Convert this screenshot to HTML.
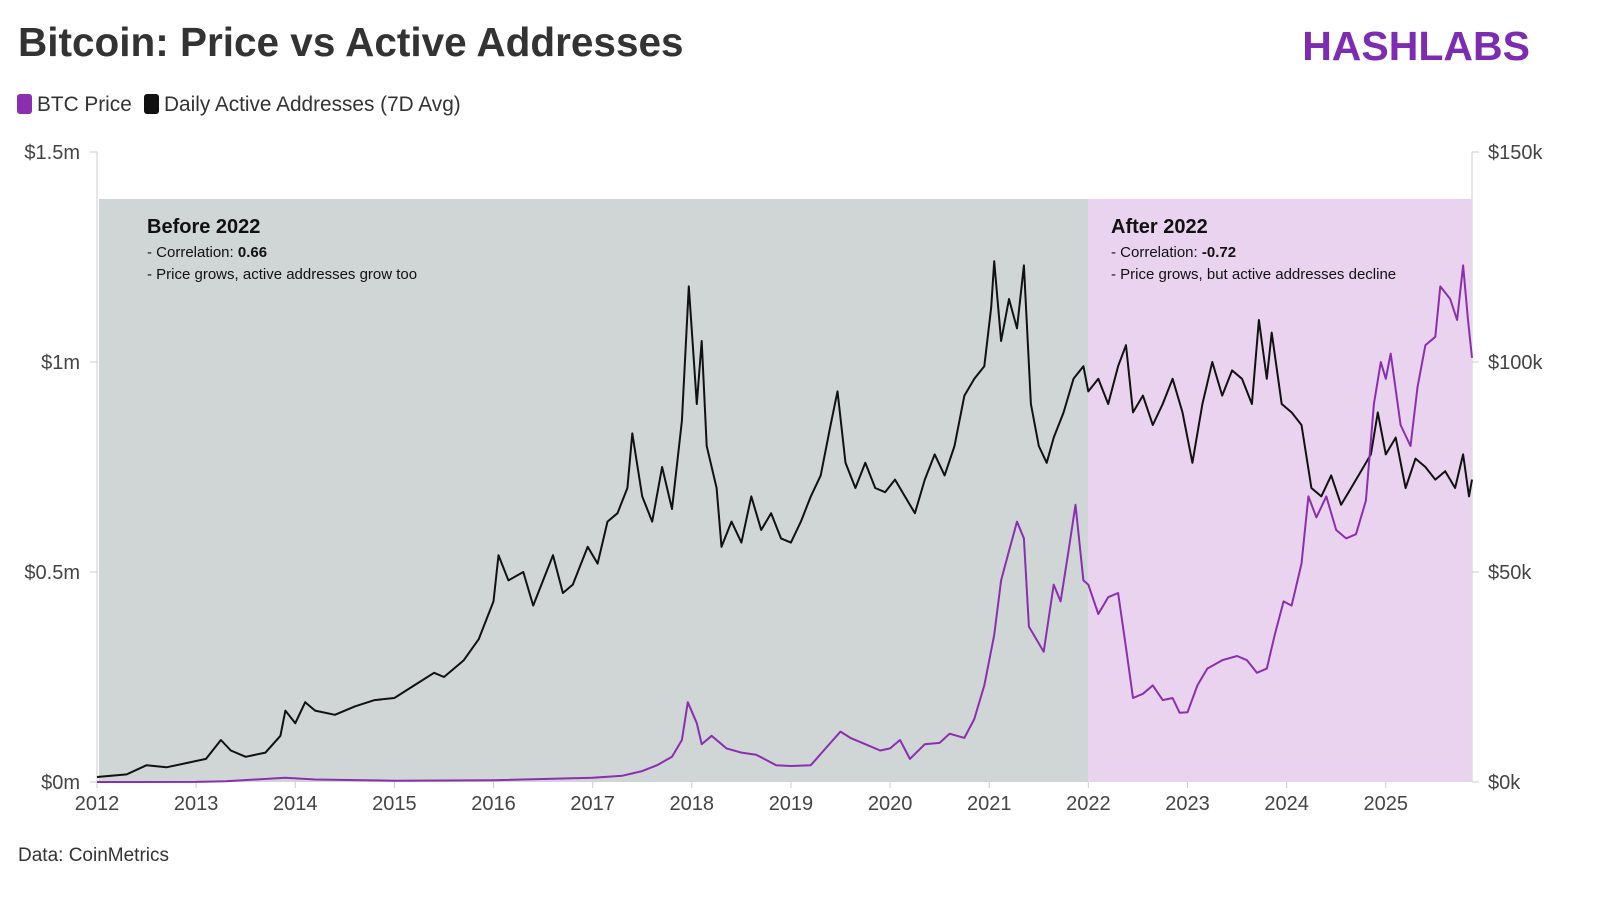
<!DOCTYPE html>
<html><head><meta charset="utf-8">
<style>
html,body{margin:0;padding:0;background:#fff;}
body{width:1600px;height:902px;overflow:hidden;font-family:"Liberation Sans",sans-serif;}
</style></head>
<body>
<svg id="chart" width="1600" height="902" xmlns="http://www.w3.org/2000/svg" font-family="Liberation Sans, sans-serif">
<text x="18" y="56" font-size="40.5" font-weight="bold" fill="#333">Bitcoin: Price vs Active Addresses</text>
<text x="1530" y="60" text-anchor="end" font-size="41" font-weight="bold" fill="#7d2bb0">HASHLABS</text>
<g>
<rect x="17" y="94" width="15" height="20" rx="3" fill="#8a2fb0"/>
<text x="37" y="111" font-size="20.8" fill="#333">BTC Price</text>
<rect x="144" y="94" width="15" height="20" rx="3" fill="#111"/>
<text x="164" y="111" font-size="20.8" fill="#333">Daily Active Addresses (7D Avg)</text>
</g>
<g id="plot"></g>
<text x="18" y="861" font-size="19" fill="#333">Data: CoinMetrics</text>
</svg>
<script>
const years = [2012,2013,2014,2015,2016,2017,2018,2019,2020,2021,2022,2023,2024,2025];
const leftTicks = [0,500,1000,1500];
const leftTickLabels = ["$0m","$0.5m","$1m","$1.5m"];
const rightTicks = [0,50,100,150];
const rightTickLabels = ["$0k","$50k","$100k","$150k"];
const addrYears = [2012.0,2012.3,2012.5,2012.7,2012.9,2013.1,2013.25,2013.35,2013.5,2013.7,2013.85,2013.9,2014.0,2014.1,2014.2,2014.4,2014.6,2014.8,2015.0,2015.2,2015.4,2015.5,2015.7,2015.85,2016.0,2016.05,2016.15,2016.3,2016.4,2016.5,2016.6,2016.7,2016.8,2016.95,2017.05,2017.15,2017.25,2017.35,2017.4,2017.5,2017.6,2017.7,2017.8,2017.9,2017.97,2018.05,2018.1,2018.15,2018.25,2018.3,2018.4,2018.5,2018.6,2018.7,2018.8,2018.9,2019.0,2019.1,2019.2,2019.3,2019.4,2019.47,2019.55,2019.65,2019.75,2019.85,2019.95,2020.05,2020.15,2020.25,2020.35,2020.45,2020.55,2020.65,2020.75,2020.85,2020.95,2021.02,2021.05,2021.12,2021.2,2021.28,2021.35,2021.42,2021.5,2021.58,2021.65,2021.75,2021.85,2021.95,2022.0,2022.1,2022.2,2022.3,2022.38,2022.45,2022.55,2022.65,2022.75,2022.85,2022.95,2023.05,2023.15,2023.25,2023.35,2023.45,2023.55,2023.65,2023.72,2023.8,2023.85,2023.95,2024.05,2024.15,2024.25,2024.35,2024.45,2024.55,2024.65,2024.75,2024.85,2024.92,2025.0,2025.1,2025.2,2025.3,2025.4,2025.5,2025.6,2025.7,2025.78,2025.84,2025.87];
const addrValues = [12,18,40,35,45,55,100,75,60,70,110,170,140,190,170,160,180,195,200,230,260,250,290,340,430,540,480,500,420,480,540,450,470,560,520,620,640,700,830,680,620,750,650,860,1180,900,1050,800,700,560,620,570,680,600,640,580,570,620,680,730,850,930,760,700,760,700,690,720,680,640,720,780,730,800,920,960,990,1130,1240,1050,1150,1080,1230,900,800,760,820,880,960,990,930,960,900,990,1040,880,920,850,900,960,880,760,900,1000,920,980,960,900,1100,960,1070,900,880,850,700,680,730,660,700,740,780,880,780,820,700,770,750,720,740,700,780,680,720];
const priceYears = [2012.0,2013.0,2013.3,2013.9,2014.2,2015.0,2016.0,2017.0,2017.3,2017.5,2017.65,2017.8,2017.9,2017.96,2018.05,2018.1,2018.2,2018.35,2018.5,2018.65,2018.85,2019.0,2019.2,2019.35,2019.5,2019.6,2019.75,2019.9,2020.0,2020.1,2020.2,2020.35,2020.5,2020.6,2020.75,2020.85,2020.95,2021.05,2021.12,2021.2,2021.28,2021.35,2021.4,2021.5,2021.55,2021.65,2021.72,2021.8,2021.87,2021.95,2022.0,2022.1,2022.2,2022.3,2022.38,2022.45,2022.55,2022.65,2022.75,2022.85,2022.92,2023.0,2023.1,2023.2,2023.35,2023.5,2023.6,2023.7,2023.8,2023.88,2023.97,2024.05,2024.15,2024.22,2024.3,2024.4,2024.5,2024.6,2024.7,2024.8,2024.88,2024.95,2025.0,2025.05,2025.15,2025.25,2025.32,2025.4,2025.5,2025.55,2025.65,2025.72,2025.78,2025.83,2025.87];
const priceValues = [0.005,0.013,0.2,1.0,0.6,0.3,0.4,1.0,1.5,2.6,4,6,10,19,14,9,11,8,7,6.5,4,3.8,4,8,12,10.5,9,7.5,8,10,5.5,9,9.3,11.5,10.5,15,23,35,48,55,62,58,37,33,31,47,43,55,66,48,47,40,44,45,32,20,21,23,19.5,20,16.5,16.6,23,27,29,30,29,26,27,35,43,42,52,68,63,68,60,58,59,67,90,100,96,102,85,80,94,104,106,118,115,110,123,110,101];

const X0=97, X1=1472, T0=2012, T1=2025.87, Y0=782, Y1=152;
const xs = t => X0 + (t-T0)/(T1-T0)*(X1-X0);
const yl = v => Y0 - v/1500*(Y0-Y1);
const yr = v => Y0 - v/150*(Y0-Y1);
const NS="http://www.w3.org/2000/svg";
const plot=document.getElementById('plot');
function mk(tag,attrs,parent){const e=document.createElementNS(NS,tag);for(const k in attrs)e.setAttribute(k,attrs[k]);(parent||plot).appendChild(e);return e;}

let r1=mk('rect',{x:xs(2012)+2,y:199,width:xs(2022)-xs(2012)-2,height:Y0-199,fill:'#d0d5d5'});


let r2=mk('rect',{x:xs(2022),y:199,width:X1-xs(2022),height:Y0-199,fill:'#ead3ee'});



let al=mk('line',{x1:X0,y1:Y1,x2:X0,y2:Y0,stroke:'#ddd','stroke-width':1.5});


let ar=mk('line',{x1:X1,y1:Y1,x2:X1,y2:Y0,stroke:'#ddd','stroke-width':1.5});



leftTicks.forEach((v,i)=>{
  mk('line',{x1:X0-7,y1:yl(v),x2:X0,y2:yl(v),stroke:'#ccc'});
  const t=mk('text',{x:80,y:yl(v)+7,'text-anchor':'end','font-size':20,fill:'#444'});
  t.textContent=leftTickLabels[i];
  
  
});
rightTicks.forEach((v,i)=>{
  mk('line',{x1:X1,y1:yr(v),x2:X1+7,y2:yr(v),stroke:'#ccc'});
  const t=mk('text',{x:1488,y:yr(v)+7,'font-size':20,fill:'#444'});
  t.textContent=rightTickLabels[i];
  
  
});
years.forEach(y=>{
  mk('line',{x1:xs(y),y1:Y0,x2:xs(y),y2:Y0+6,stroke:'#ccc'});
  const t=mk('text',{x:xs(y),y:810,'text-anchor':'middle','font-size':20,fill:'#444'});
  t.textContent=String(y);
  
  
});

function note(x,title,corr,desc,name){
  const g=mk('g',{});
  
  
  const a=mk('text',{x:x,y:233,'font-size':20,'font-weight':'bold',fill:'#111'},g);a.textContent=title;
  const b=mk('text',{x:x,y:257,'font-size':15,fill:'#111'},g);
  b.innerHTML='- Correlation: <tspan font-weight="bold">'+corr+'</tspan>';
  const c=mk('text',{x:x,y:279,'font-size':15,fill:'#111'},g);c.textContent=desc;
}
note(147,'Before 2022','0.66','- Price grows, active addresses grow too','before-2022-annotation');
note(1111,'After 2022','-0.72','- Price grows, but active addresses decline','after-2022-annotation');

let pa=mk('path',{d:addrYears.map((t,i)=>(i?'L':'M')+xs(t).toFixed(1)+','+yl(addrValues[i]).toFixed(1)).join(''),fill:'none',stroke:'#111','stroke-width':2,'stroke-linejoin':'round'});


let pp=mk('path',{d:priceYears.map((t,i)=>(i?'L':'M')+xs(t).toFixed(1)+','+yr(priceValues[i]).toFixed(1)).join(''),fill:'none',stroke:'#8a2fb0','stroke-width':2,'stroke-linejoin':'round'});


</script>
</body></html>
